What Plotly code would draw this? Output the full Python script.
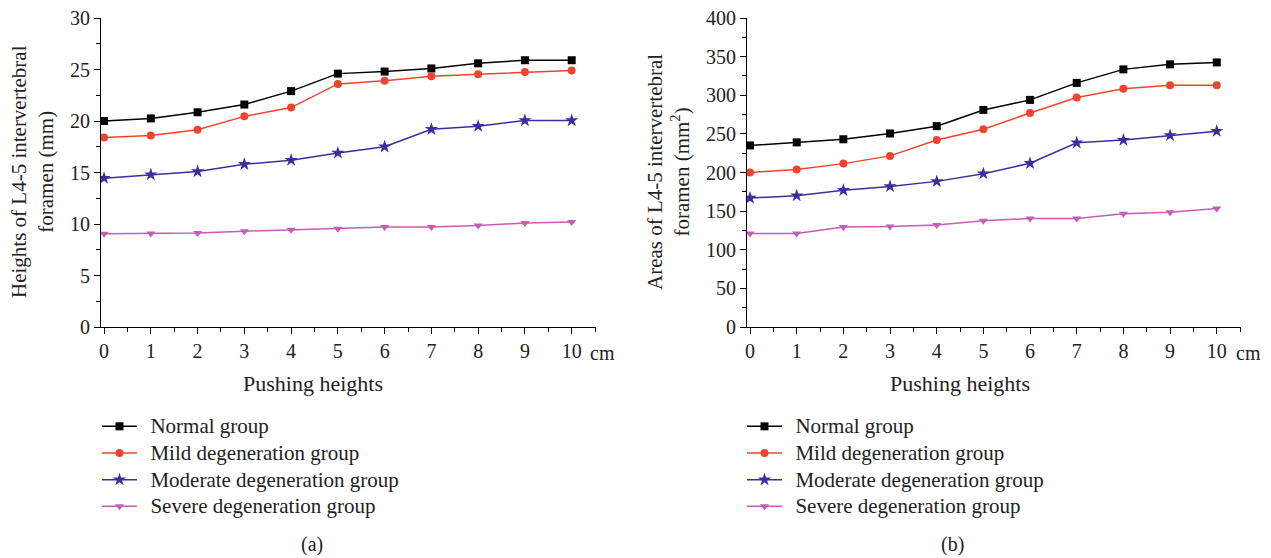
import plotly.graph_objects as go

W, H = 1271, 558

pushing = [0, 1, 2, 3, 4, 5, 6, 7, 8, 9, 10]
groups = ["Normal group", "Mild degeneration group",
          "Moderate degeneration group", "Severe degeneration group"]

heights_normal = [20.0, 20.25, 20.85, 21.6, 22.9, 24.6, 24.8, 25.1, 25.6, 25.9, 25.9]
heights_mild = [18.4, 18.6, 19.15, 20.45, 21.3, 23.6, 23.9, 24.35, 24.55, 24.75, 24.9]
heights_moderate = [14.45, 14.8, 15.1, 15.8, 16.2, 16.9, 17.5, 19.2, 19.5, 20.05, 20.05]
heights_severe = [9.05, 9.07, 9.12, 9.3, 9.45, 9.55, 9.7, 9.7, 9.85, 10.1, 10.2]

areas_normal = [235, 239, 243, 250.5, 260, 281, 294, 316, 333.5, 340, 342.5]
areas_mild = [200, 204, 211.5, 221.5, 242, 256, 277, 297, 308.5, 313, 313]
areas_moderate = [167, 170, 177, 182, 188.5, 198.5, 212, 238.5, 242, 248, 253.5]
areas_severe = [121, 121, 129.5, 130, 132, 137.5, 140.5, 140.5, 146.5, 148.5, 153.5]

colors = ["#000000", "#f0452d", "#3b2f9c", "#c85cb4"]
symbols = ["square", "circle", "star", "triangle-down"]
msizes = [8, 8, 10, 8]

FONT = "Liberation Serif"

def px_x(p):
    return p / W

def px_y(p):
    return 1 - p / H

fig = go.Figure()

height_series = [heights_normal, heights_mild, heights_moderate, heights_severe]
area_series = [areas_normal, areas_mild, areas_moderate, areas_severe]

def legend_name(n):
    return '<span style="font-size:21px">\u2009\u2009' + n + '</span>'

for i, name in enumerate(groups):
    fig.add_trace(go.Scatter(
        x=pushing, y=height_series[i], name=legend_name(name), mode="lines+markers",
        line=dict(color=colors[i], width=1.5),
        marker=dict(symbol=symbols[i], size=msizes[i], color=colors[i]),
        xaxis="x", yaxis="y", legend="legend"))
for i, name in enumerate(groups):
    fig.add_trace(go.Scatter(
        x=pushing, y=area_series[i], name=legend_name(name), mode="lines+markers",
        line=dict(color=colors[i], width=1.5),
        marker=dict(symbol=symbols[i], size=msizes[i], color=colors[i]),
        xaxis="x2", yaxis="y2", legend="legend2"))

ydom = [px_y(327), px_y(18)]

xcommon = dict(range=[-0.065, 10.52], tickmode="array", tickvals=pushing,
               ticks="outside", ticklen=6, tickwidth=1.2, tickcolor="black",
               showline=True, linecolor="black", linewidth=1.2, showgrid=False,
               zeroline=False, tickfont=dict(family=FONT, size=20, color="#222"),
               minor=dict(dtick=0.5, tick0=0, ticks="outside", ticklen=4,
                          tickwidth=1.2, tickcolor="black", showgrid=False),
               automargin=False, fixedrange=True)
ycommon = dict(ticks="outside", ticklen=6, tickwidth=1.2, tickcolor="black",
               showline=True, linecolor="black", linewidth=1.2, showgrid=False,
               zeroline=False, tickfont=dict(family=FONT, size=20, color="#222"),
               automargin=False, fixedrange=True)

legend_common = dict(xanchor="left", yanchor="top",
                     font=dict(family=FONT, size=18.2, color="#222"),
                     bgcolor="rgba(0,0,0,0)", itemwidth=35, tracegroupgap=0)

fig.update_layout(
    width=W, height=H,
    margin=dict(l=0, r=0, t=0, b=0),
    paper_bgcolor="white", plot_bgcolor="white",
    font=dict(family=FONT, size=20, color="#222"),
    xaxis=dict(domain=[px_x(101), px_x(596)], anchor="y", **xcommon),
    xaxis2=dict(domain=[px_x(747), px_x(1241)], anchor="y2", **xcommon),
    yaxis=dict(domain=ydom, anchor="x", range=[0, 30], tickvals=[0, 5, 10, 15, 20, 25, 30],
               minor=dict(dtick=2.5, tick0=0, ticks="outside", ticklen=4, tickwidth=1.2,
                          tickcolor="black", showgrid=False), **ycommon),
    yaxis2=dict(domain=ydom, anchor="x2", range=[0, 400],
                tickvals=[0, 50, 100, 150, 200, 250, 300, 350, 400],
                minor=dict(dtick=25, tick0=0, ticks="outside", ticklen=4, tickwidth=1.2,
                           tickcolor="black", showgrid=False), **ycommon),
    legend=dict(x=px_x(97), y=px_y(408), **legend_common),
    legend2=dict(x=px_x(742), y=px_y(408), **legend_common),
    showlegend=True,
)

ann = []
def add_text(text, x, y, size=21, angle=0):
    ann.append(dict(text=text, x=px_x(x), y=px_y(y), xref="paper", yref="paper",
                    showarrow=False, xanchor="center", yanchor="middle",
                    textangle=angle, font=dict(family=FONT, size=size, color="#222")))

add_text("cm", 602, 353, size=20)
add_text("cm", 1248, 353, size=20)
add_text("Pushing heights", 313, 383, size=22)
add_text("Pushing heights", 960, 383, size=22)
add_text("Heights of L4-5 intervertebral<br>foramen (mm)", 32, 172, angle=-90)
add_text("Areas of L4-5 intervertebral<br>foramen (mm<sup>2</sup>)", 668, 172, angle=-90)
add_text("(a)", 312, 544, size=20)
add_text("(b)", 952, 544, size=20)
fig.update_layout(annotations=ann)

fig.write_html("out.html", config={"displayModeBar": False},
               post_script="document.body.style.margin='0px';")
